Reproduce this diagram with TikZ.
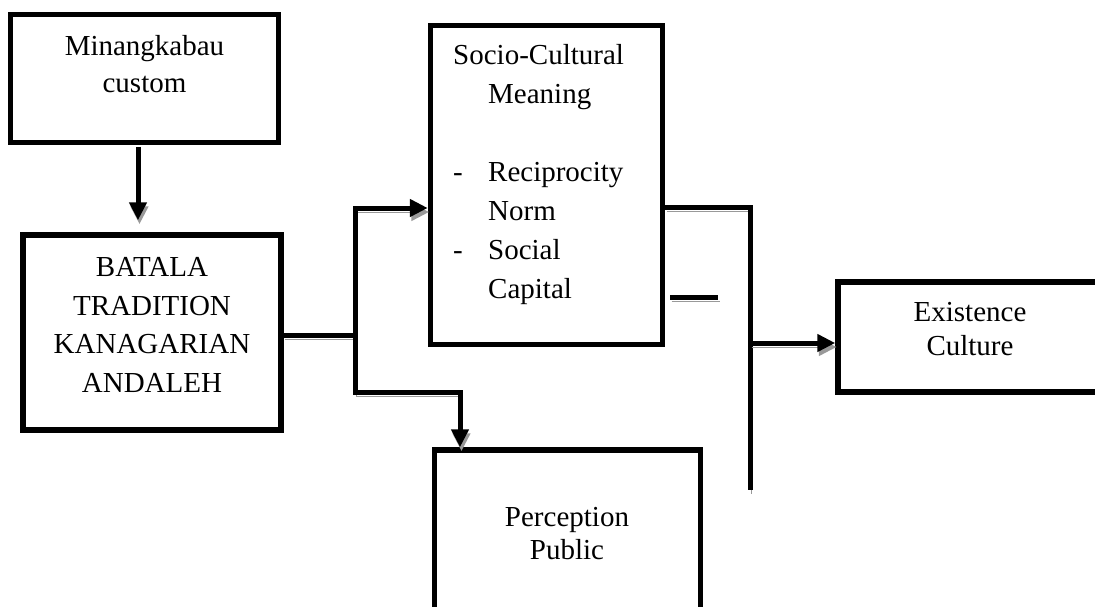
\documentclass[tikz,border=0pt]{standalone}
\usepackage{fontspec}
\setmainfont{Liberation Serif}
\usetikzlibrary{arrows.meta}
\begin{document}
\begin{tikzpicture}[x=1pt,y=-1pt,
  box/.style={draw=black, line width=5.5pt, inner sep=0pt},
  txt/.style={align=center, inner sep=0pt, font=\fontsize{29}{37}\selectfont},
  conn/.style={line width=5pt, draw=black,
    preaction={draw=black!40, transform canvas={shift={(1.5pt,-4pt)}}}},
  tip/.style={-{Triangle[length=18pt,width=17pt]}}
]
\useasboundingbox (0,0) rectangle (1095,607);
\clip (0,0) rectangle (1095,607);
\fill[white] (0,0) rectangle (1095,607);

% boxes
\node[box, minimum width=268pt, minimum height=128pt] (mc) at (144.5,78.5) {};
\node[txt] (mct) at (144.5,63.6) {Minangkabau\\custom};

\node[box, minimum width=258pt, minimum height=195pt] (bt) at (152,332.5) {};
\node[txt, font=\fontsize{29}{38.7}\selectfont] (btt) at (152,325) {BATALA\\TRADITION\\KANAGARIAN\\ANDALEH};

\node[box, minimum width=232pt, minimum height=319pt] (soc) at (546.5,185) {};
\node[inner sep=0pt, anchor=north west, font=\fontsize{29}{39}\selectfont] (soct) at (453,36.7)
  {\begin{tabular}{@{}p{35pt}@{}l@{}}
   \multicolumn{2}{@{}l@{}}{Socio-Cultural}\\
   & Meaning\\
   & \\
   - & Reciprocity\\
   & Norm\\
   - & Social\\
   & Capital
   \end{tabular}};

\node[box, minimum width=272pt, minimum height=110pt] (ex) at (974,337) {};
\node[txt, font=\fontsize{29}{34}\selectfont] (ext) at (970,329.5) {Existence\\Culture};

\node[box, minimum width=266pt, minimum height=210pt] (per) at (567.5,555) {};
\node[txt, font=\fontsize{29}{33}\selectfont] (pert) at (567,534) {Perception\\Public};

% connectors
\coordinate (a1) at (138,147);
\coordinate (j1) at (355,335);
\coordinate (j2) at (460,392);
\coordinate (j3) at (750,207);
\coordinate (j4) at (750,343);
\coordinate (lend) at (750,490);
\coordinate (d1) at (670,297);
\coordinate (d2) at (718,297);

\draw[conn, tip] (a1) -- ([yshift=12pt]a1 |- bt.north);
\draw[conn] ([yshift=-2.5pt]bt.east) -- (j1);
\draw[conn, tip] (j1) |- ([yshift=-23pt]soc.west);
\draw[conn, tip] (j1) |- (j2) -- (j2 |- per.north);
\draw[conn] ([yshift=-22pt]soc.east) -- (j3) -- (lend);
\draw[conn, tip] (j4) -- (j4 -| ex.west);
\draw[conn] (d1) -- (d2);
\end{tikzpicture}
\end{document}
